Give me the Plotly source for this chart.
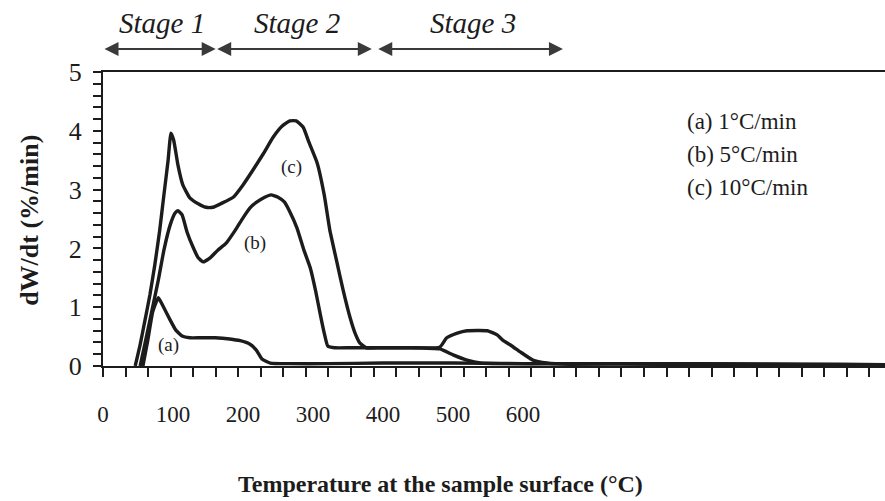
import plotly.graph_objects as go

# Derivative weight-loss curves (dW/dt, %/min) vs. surface temperature (°C)
temp_a = [57, 64, 71, 79, 87, 96, 104, 113, 124, 139, 160, 181, 196, 210, 219, 227, 239, 267,
          320, 400, 500, 600, 700, 800, 900, 1000, 1117]
rate_a = [0, 0.44, 0.92, 1.16, 0.99, 0.78, 0.61, 0.51, 0.48, 0.48, 0.48, 0.46, 0.43, 0.37, 0.27, 0.12, 0.05, 0.04,
          0.04, 0.05, 0.05, 0.04, 0.04, 0.03, 0.03, 0.02, 0.02]

temp_b = [53, 61, 70, 79, 87, 96, 103, 107, 113, 120, 129, 136, 143, 153, 164, 176, 189, 200, 210, 220,
          231, 240, 250, 259, 267, 277, 287, 296, 304, 310, 316, 321, 331, 353, 396, 439, 481, 500, 520,
          539, 567, 650, 750, 850, 950, 1050, 1117]
rate_b = [0, 0.44, 0.95, 1.46, 1.97, 2.40, 2.60, 2.64, 2.57, 2.28, 2.01, 1.84, 1.77, 1.84, 1.97, 2.09, 2.31, 2.52, 2.69, 2.79,
          2.87, 2.91, 2.87, 2.79, 2.62, 2.35, 1.97, 1.67, 1.26, 0.90, 0.56, 0.34, 0.31, 0.31, 0.31, 0.31, 0.29, 0.19, 0.10,
          0.05, 0.04, 0.04, 0.04, 0.03, 0.03, 0.02, 0.02]

temp_c = [46, 53, 60, 67, 74, 81, 87, 93, 97, 101, 107, 114, 124, 136, 147, 157, 170, 186, 200, 214,
          229, 243, 256, 267, 276, 286, 294, 306, 316, 324, 334, 343, 353, 360, 367, 376, 396, 439, 481, 491,
          506, 520, 549, 563, 571, 584, 596, 614, 634, 667, 750, 850, 950, 1050, 1117]
rate_c = [0, 0.36, 0.78, 1.21, 1.72, 2.31, 2.91, 3.50, 3.96, 3.84, 3.42, 3.08, 2.86, 2.76, 2.70, 2.70, 2.77, 2.87, 3.08, 3.33,
          3.61, 3.89, 4.08, 4.17, 4.17, 4.06, 3.81, 3.45, 2.91, 2.31, 1.77, 1.29, 0.82, 0.56, 0.39, 0.31, 0.31, 0.31, 0.32, 0.48,
          0.56, 0.60, 0.60, 0.53, 0.44, 0.34, 0.24, 0.10, 0.05, 0.03, 0.04, 0.04, 0.03, 0.03, 0.02]

curve_tags = ["(a)", "(b)", "(c)"]
curve_tag_pos = [(93, 0.36), (217, 2.09), (269, 3.38)]
heating_rates = ["(a) 1°C/min", "(b) 5°C/min", "(c) 10°C/min"]

stage_names = ["Stage 1", "Stage 2", "Stage 3"]
stage_spans = [(0, 161), (161, 384), (391, 657)]

x_tick_vals = [0, 100, 200, 300, 400, 500, 600]
x_range = [0, 1117]

INK = "#1c1c1c"
SERIF = "Liberation Serif"

fig = go.Figure()
for tx, ry in [(temp_a, rate_a), (temp_b, rate_b), (temp_c, rate_c)]:
    fig.add_trace(go.Scatter(x=tx, y=ry, mode="lines",
                             line=dict(color=INK, width=3.4, shape="spline", smoothing=0.4),
                             showlegend=False, hoverinfo="skip"))

annotations = []
for tag, (tx, ty) in zip(curve_tags, curve_tag_pos):
    annotations.append(dict(x=tx, y=ty, xref="x", yref="y", text=tag, showarrow=False,
                            font=dict(family=SERIF, size=19, color=INK)))

# heating-rate key
for i, label in enumerate(heating_rates):
    annotations.append(dict(x=0.744, y=0.83 - i * 0.112, xref="paper", yref="paper", text=label,
                            showarrow=False, xanchor="left", yanchor="middle",
                            font=dict(family=SERIF, size=23, color=INK)))

# stage arrows and names above the plot
for name, (s0, s1) in zip(stage_names, stage_spans):
    annotations.append(dict(x=s1, y=1.078, xref="x", yref="paper", ax=s0, ay=0, axref="x", ayref="pixel",
                            text="", showarrow=True, arrowside="end+start", arrowhead=2, startarrowhead=2,
                            arrowsize=1.4, startarrowsize=1.4, arrowwidth=2, arrowcolor="#3a3a3a"))
    annotations.append(dict(x=(s0 + s1) / 2 + 4, y=1.165, xref="x", yref="paper", text=name, showarrow=False,
                            xanchor="center", yanchor="middle",
                            font=dict(family=SERIF, size=29, color=INK, style="italic")))

annotations.append(dict(x=0.431, y=-0.40, xref="paper", yref="paper", xanchor="center", yanchor="middle",
                        text="<b>Temperature at the sample surface (°C)</b>", showarrow=False,
                        font=dict(family=SERIF, size=24, color=INK)))
annotations.append(dict(x=-0.0934, y=0.497, xref="paper", yref="paper", xanchor="center", yanchor="middle",
                        text="<b>dW/dt (%/min)</b>",
                        textangle=-90, showarrow=False, font=dict(family=SERIF, size=26, color=INK)))

fig.update_layout(
    width=885, height=501,
    margin=dict(l=103, r=0, t=72, b=135),
    paper_bgcolor="white", plot_bgcolor="white",
    font=dict(family=SERIF, color=INK),
    annotations=annotations,
    xaxis=dict(range=x_range, tickvals=x_tick_vals, ticks="", showgrid=False, zeroline=False,
               showline=True, linecolor=INK, linewidth=2, mirror=True,
               tickfont=dict(family=SERIF, size=23, color=INK), ticklabelstandoff=26,
               minor=dict(tick0=0, dtick=32.2, ticks="outside", ticklen=9, tickwidth=2, tickcolor=INK,
                          showgrid=False)),
    yaxis=dict(range=[0, 5], dtick=1, ticks="outside", ticklen=8, tickwidth=2, tickcolor=INK,
               showgrid=False, zeroline=False, showline=True, linecolor=INK, linewidth=2,
               tickfont=dict(family=SERIF, size=26, color=INK), ticklabelstandoff=6,
               minor=dict(dtick=0.2, ticks="outside", ticklen=8, tickwidth=2, tickcolor=INK, showgrid=False)),
)

fig.write_html("out.html")
